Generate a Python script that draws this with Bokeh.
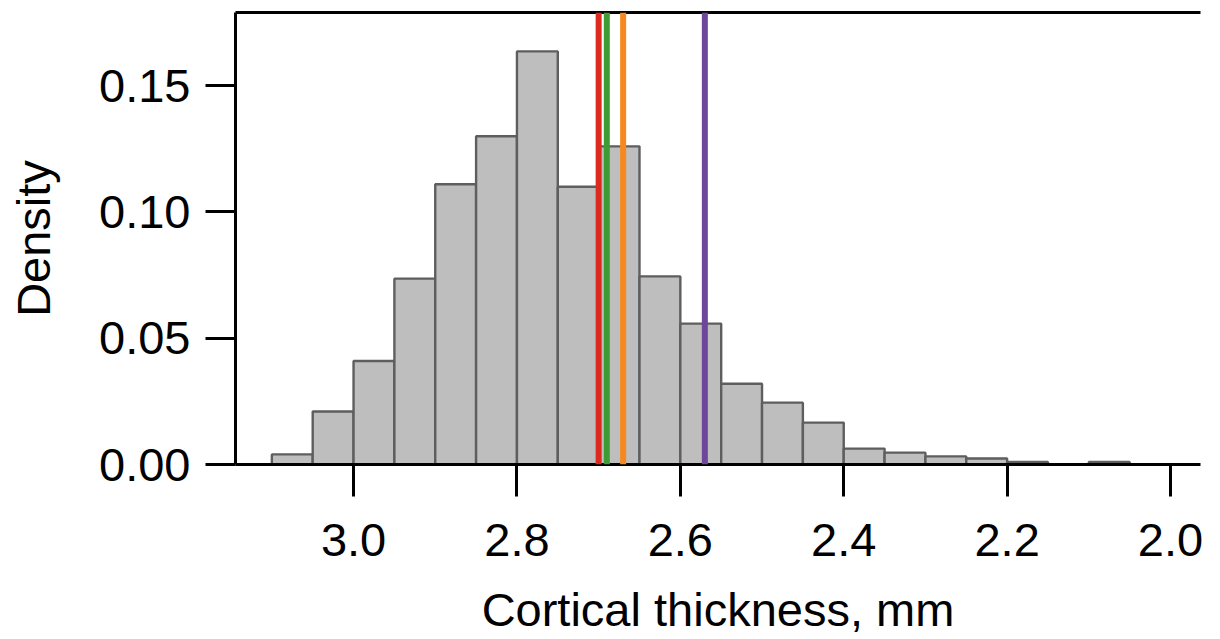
from bokeh.plotting import figure
from bokeh.models import Range1d, LinearAxis, FixedTicker, Span
from bokeh.embed import file_html
from bokeh.resources import INLINE

# Histogram bins (upper edge -> lower edge, mm) and their densities
bin_upper = [3.10, 3.05, 3.00, 2.95, 2.90, 2.85, 2.80, 2.75, 2.70, 2.65, 2.60,
             2.55, 2.50, 2.45, 2.40, 2.35, 2.30, 2.25, 2.20, 2.15, 2.10]
bin_lower = [3.05, 3.00, 2.95, 2.90, 2.85, 2.80, 2.75, 2.70, 2.65, 2.60, 2.55,
             2.50, 2.45, 2.40, 2.35, 2.30, 2.25, 2.20, 2.15, 2.10, 2.05]
density = [0.004, 0.021, 0.041, 0.0736, 0.111, 0.130, 0.1636, 0.110, 0.126, 0.0745, 0.0558,
           0.032, 0.0245, 0.0166, 0.0063, 0.0047, 0.0032, 0.0024, 0.0010, 0.0, 0.0010]

# Reference thickness values marked as vertical lines
marker_values = [2.700, 2.690, 2.670, 2.570]
marker_colors = ["#dc2a1f", "#3f9c35", "#f5891f", "#6e479c"]

x_ticks = [3.0, 2.8, 2.6, 2.4, 2.2, 2.0]
y_ticks = [0.00, 0.05, 0.10, 0.15]

FONT = "Liberation Sans"
FS = "47px"

p = figure(width=1220, height=639, output_backend="svg", toolbar_location=None,
           x_range=Range1d(3.1445, 1.9633), y_range=Range1d(0, 0.179),
           min_border_left=235, min_border_right=20, min_border_top=12,
           min_border_bottom=175, background_fill_color="white",
           border_fill_color="white", outline_line_color=None)
p.grid.visible = False

p.quad(left=bin_upper, right=bin_lower, bottom=0, top=density,
       fill_color="#bebebe", line_color="#5e5e5e", line_width=2.4)

for v, c in zip(marker_values, marker_colors):
    p.add_layout(Span(location=v, dimension="height", line_color=c, line_width=6))

# bottom axis
xa = p.xaxis[0]
xa.ticker = FixedTicker(ticks=x_ticks)
xa.major_label_overrides = {t: f"{t:.1f}" for t in x_ticks}
xa.axis_label = "Cortical thickness, mm"

# left axis
ya = p.yaxis[0]
ya.ticker = FixedTicker(ticks=y_ticks)
ya.major_label_overrides = {t: f"{t:.2f}" for t in y_ticks}
ya.axis_label = "Density"

for ax, tick_out, label_standoff, title_standoff in ((xa, 32, 27, 24), (ya, 30, 15, 36)):
    ax.axis_line_color = "black"
    ax.axis_line_width = 3
    ax.major_tick_line_color = "black"
    ax.major_tick_line_width = 3
    ax.major_tick_in = 0
    ax.major_tick_out = tick_out
    ax.minor_tick_line_color = None
    ax.major_label_standoff = label_standoff
    ax.major_label_text_font = FONT
    ax.major_label_text_font_size = FS
    ax.major_label_text_color = "black"
    ax.axis_label_text_font = FONT
    ax.axis_label_text_font_size = FS
    ax.axis_label_text_font_style = "normal"
    ax.axis_label_text_color = "black"
    ax.axis_label_standoff = title_standoff

# top border line
top = LinearAxis(ticker=FixedTicker(ticks=[]), axis_line_width=3,
                 major_tick_out=0, major_tick_in=0, minor_tick_line_color=None,
                 major_label_standoff=0, major_label_text_font_size="0px")
p.add_layout(top, "above")

open("out.html", "w").write(file_html(p, INLINE))
